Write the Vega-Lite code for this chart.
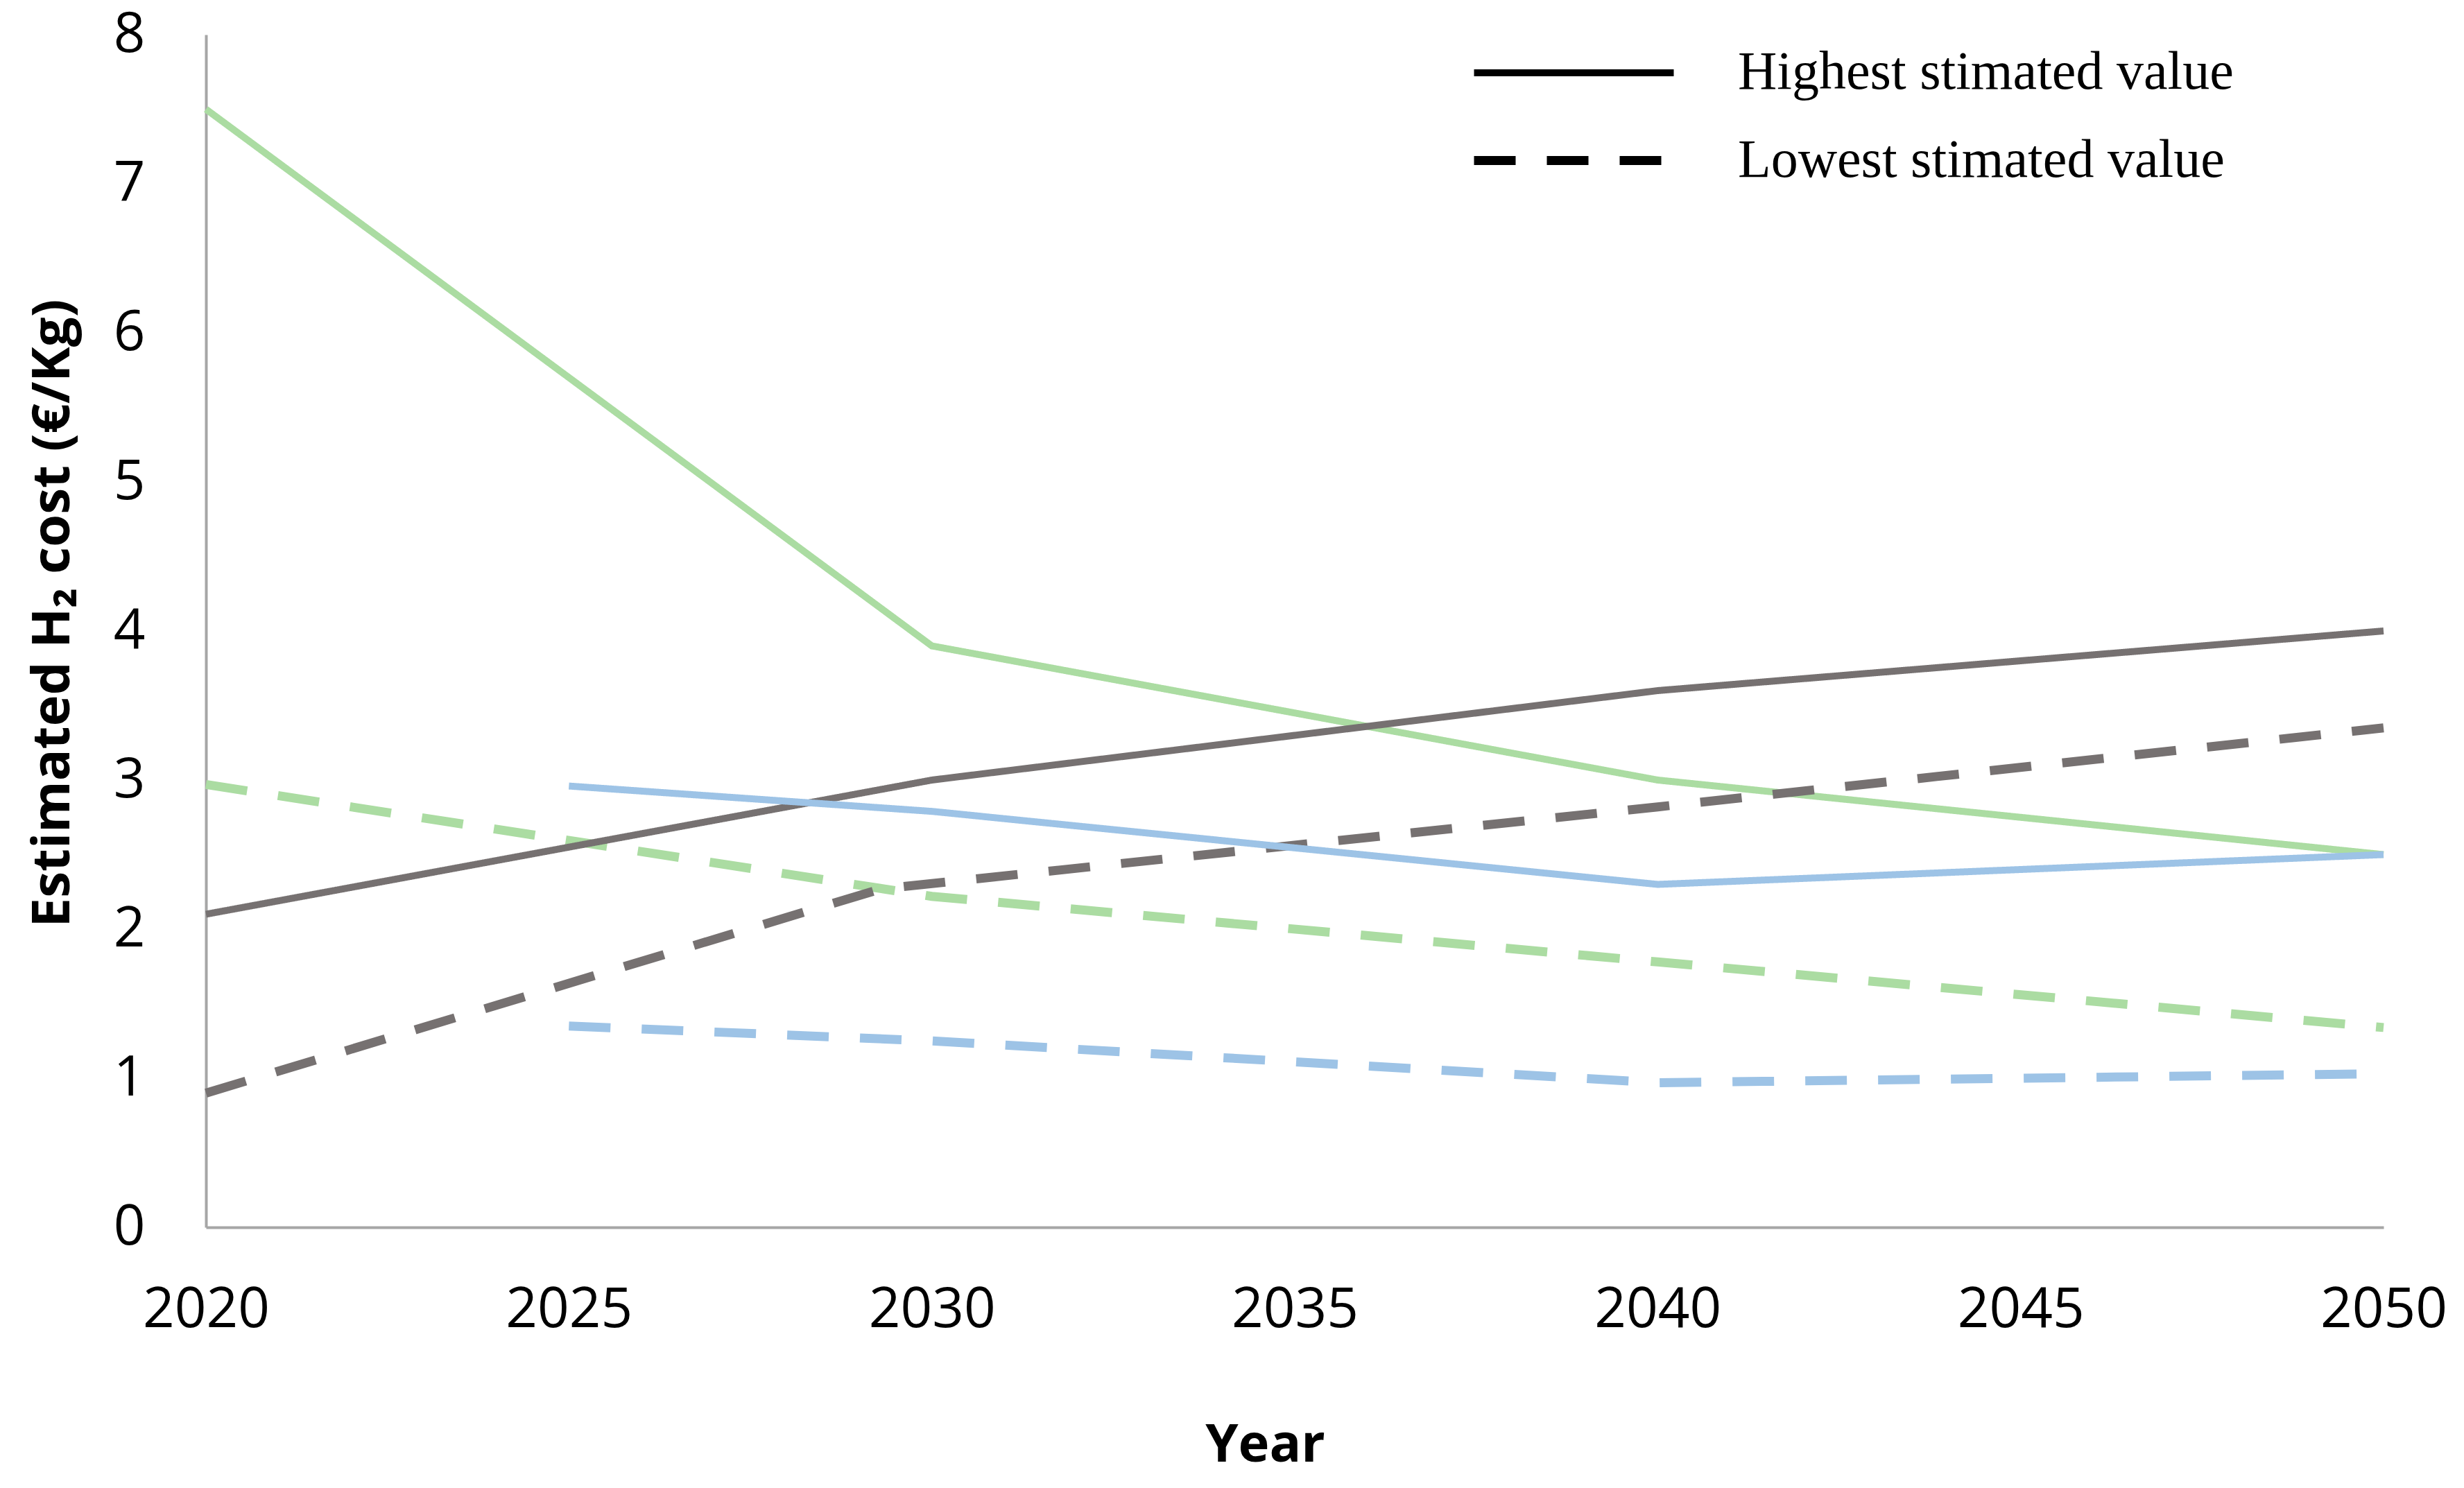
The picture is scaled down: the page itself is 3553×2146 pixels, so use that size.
{
  "$schema": "https://vega.github.io/schema/vega-lite/v6.json",
  "autosize": {"type": "none"},
  "width": 3140,
  "height": 1720,
  "padding": {"left": 297, "top": 50, "right": 116, "bottom": 376},
  "background": "white",
  "config": {"view": {"stroke": null}},
  "data": {
    "values": [
      {"hydrogen": "Green", "estimate": "Highest stimated value", "year": 2020, "cost": 7.5},
      {"hydrogen": "Green", "estimate": "Highest stimated value", "year": 2030, "cost": 3.9},
      {"hydrogen": "Green", "estimate": "Highest stimated value", "year": 2040, "cost": 3.0},
      {"hydrogen": "Green", "estimate": "Highest stimated value", "year": 2050, "cost": 2.5},
      {"hydrogen": "Green", "estimate": "Lowest stimated value", "year": 2020, "cost": 2.97},
      {"hydrogen": "Green", "estimate": "Lowest stimated value", "year": 2030, "cost": 2.22},
      {"hydrogen": "Green", "estimate": "Lowest stimated value", "year": 2040, "cost": 1.78},
      {"hydrogen": "Green", "estimate": "Lowest stimated value", "year": 2050, "cost": 1.34},
      {"hydrogen": "Grey", "estimate": "Highest stimated value", "year": 2020, "cost": 2.1},
      {"hydrogen": "Grey", "estimate": "Highest stimated value", "year": 2030, "cost": 3.0},
      {"hydrogen": "Grey", "estimate": "Highest stimated value", "year": 2040, "cost": 3.6},
      {"hydrogen": "Grey", "estimate": "Highest stimated value", "year": 2050, "cost": 4.0},
      {"hydrogen": "Grey", "estimate": "Lowest stimated value", "year": 2020, "cost": 0.9},
      {"hydrogen": "Grey", "estimate": "Lowest stimated value", "year": 2029.3, "cost": 2.27},
      {"hydrogen": "Grey", "estimate": "Lowest stimated value", "year": 2040, "cost": 2.82},
      {"hydrogen": "Grey", "estimate": "Lowest stimated value", "year": 2050, "cost": 3.35},
      {"hydrogen": "Blue", "estimate": "Highest stimated value", "year": 2025, "cost": 2.96},
      {"hydrogen": "Blue", "estimate": "Highest stimated value", "year": 2030, "cost": 2.79},
      {"hydrogen": "Blue", "estimate": "Highest stimated value", "year": 2040, "cost": 2.3},
      {"hydrogen": "Blue", "estimate": "Highest stimated value", "year": 2050, "cost": 2.5},
      {"hydrogen": "Blue", "estimate": "Lowest stimated value", "year": 2025, "cost": 1.35},
      {"hydrogen": "Blue", "estimate": "Lowest stimated value", "year": 2030, "cost": 1.25},
      {"hydrogen": "Blue", "estimate": "Lowest stimated value", "year": 2040, "cost": 0.97},
      {"hydrogen": "Blue", "estimate": "Lowest stimated value", "year": 2050, "cost": 1.03}
    ]
  },
  "mark": {"type": "line", "strokeCap": "butt"},
  "encoding": {
    "x": {
      "field": "year",
      "type": "quantitative",
      "scale": {"domain": [2020, 2050], "nice": false, "zero": false},
      "axis": {
        "title": "Year",
        "values": [2020, 2025, 2030, 2035, 2040, 2045, 2050],
        "format": "d",
        "grid": false,
        "ticks": false,
        "domainColor": "#a6a6a6",
        "domainWidth": 4,
        "labelFont": "Open Sans",
        "labelFontSize": 80,
        "labelColor": "#000000",
        "labelPadding": 80,
        "labelFlush": false,
        "labelLimit": 600,
        "labelOverlap": false,
        "titleFont": "Open Sans",
        "titleFontSize": 76,
        "titleFontWeight": "bold",
        "titleColor": "#000000",
        "titlePadding": 118,
        "titleX": 1527
      }
    },
    "y": {
      "field": "cost",
      "type": "quantitative",
      "scale": {"domain": [0, 8], "nice": false},
      "axis": {
        "title": "Estimated H₂ cost (€/Kg)",
        "values": [0, 1, 2, 3, 4, 5, 6, 7, 8],
        "grid": false,
        "ticks": false,
        "domainColor": "#a6a6a6",
        "domainWidth": 4,
        "labelFont": "Open Sans",
        "labelFontSize": 80,
        "labelColor": "#000000",
        "labelPadding": 88,
        "labelFlush": false,
        "labelOverlap": false,
        "titleFont": "Open Sans",
        "titleFontSize": 76,
        "titleFontWeight": "bold",
        "titleColor": "#000000",
        "titlePadding": 48,
        "titleY": 834
      }
    },
    "color": {
      "field": "hydrogen",
      "type": "nominal",
      "scale": {"domain": ["Green", "Grey", "Blue"], "range": ["#abdca2", "#767171", "#9dc3e6"]},
      "legend": null
    },
    "strokeWidth": {
      "field": "estimate",
      "type": "nominal",
      "scale": {"domain": ["Highest stimated value", "Lowest stimated value"], "range": [10, 13]},
      "legend": null
    },
    "strokeDash": {
      "field": "estimate",
      "type": "nominal",
      "scale": {"domain": ["Highest stimated value", "Lowest stimated value"], "range": [[1, 0], [60, 45]]},
      "legend": {
        "title": null,
        "orient": "none",
        "legendX": 1930,
        "legendY": 14,
        "padding": 0,
        "symbolType": "M-4,0H4",
        "symbolStrokeColor": "#000000",
        "symbolStrokeWidth": 9,
        "symbolSize": 5184,
        "labelFont": "Liberation Serif",
        "labelFontSize": 78,
        "labelColor": "#000000",
        "labelOffset": 194,
        "rowPadding": 45,
        "labelLimit": 1200
      }
    },
    "detail": {"field": "hydrogen"}
  }
}
